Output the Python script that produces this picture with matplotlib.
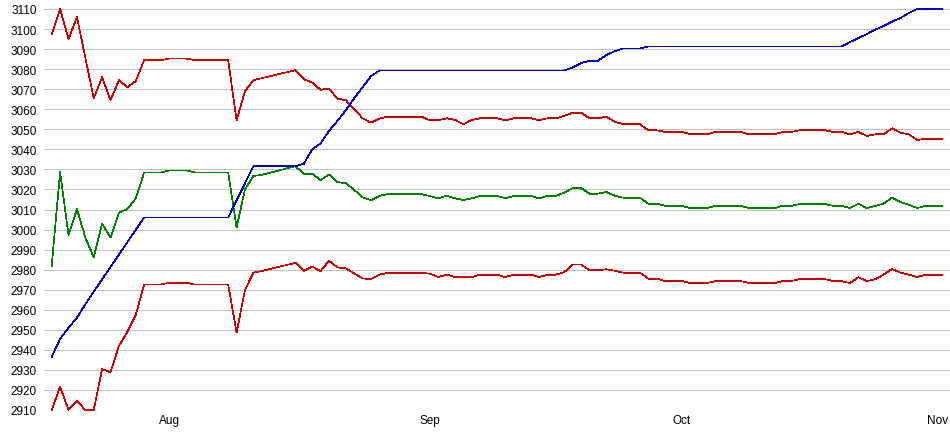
import pandas as pd
import matplotlib
matplotlib.use('Agg')
import matplotlib.pyplot as plt
import matplotlib.dates as mdates
import matplotlib.transforms as mtransforms

start = pd.Timestamp('2008-07-18')

# day offsets from start, and values
upper_days = [0, 1, 2, 3, 5, 6, 7, 8, 9, 10, 11, 13, 14, 16, 17, 21, 22, 23, 24, 25,
              29, 30, 31, 32, 33, 34, 35, 36, 37, 38, 39, 40, 44, 45, 46, 47, 48, 49, 50, 51,
              53, 54, 55, 57, 58, 59, 60, 61, 62, 63, 64, 65, 66, 67, 68, 70, 71, 72, 73, 75,
              76, 78, 79, 82, 83, 86, 87, 88, 89, 92, 93, 94, 95, 96, 97, 98, 99, 100, 101, 102,
              103, 104, 106]
upper_vals = [3097.5, 3110, 3095, 3106, 3065.5, 3076, 3064.5, 3074.5, 3071, 3074, 3084.5, 3084.5,
              3085.3, 3085.3, 3084.5, 3084.5, 3054.5, 3069, 3074.5, 3075.5,
              3079.5, 3075, 3073.3, 3069.7, 3070.3, 3065.3, 3064.5, 3060, 3055.5, 3053.3, 3055.3,
              3056.3, 3056.3, 3054.5, 3054.5, 3055.5, 3054.7, 3052.5, 3054.7, 3055.5,
              3055.5, 3054.5, 3055.5, 3055.5, 3054.5, 3055.5, 3055.5, 3056.7, 3058.3, 3058.3,
              3055.5, 3055.5, 3056.3, 3053.8, 3052.5, 3052.5, 3049.5, 3049.5, 3048.7, 3048.7,
              3047.5, 3047.5, 3048.7, 3048.7, 3047.5, 3047.5, 3048.7, 3048.7, 3049.5, 3049.5,
              3048.7, 3048.7, 3047.5, 3048.7, 3046.7, 3047.5, 3047.5, 3050.5, 3048.3, 3047.5,
              3044.7, 3045.3, 3045.3]

mid_days = [0, 1, 2, 3, 4, 5, 6, 7, 8, 9, 10, 11, 13, 14, 16, 17, 21, 22, 23, 24, 25,
            29, 30, 31, 32, 33, 34, 35, 36, 37, 38, 39, 40, 44, 45, 46, 47, 48, 49, 50, 51,
            53, 54, 55, 57, 58, 59, 60, 61, 62, 63, 64, 65, 66, 67, 68, 70, 71, 72, 73, 75,
            76, 78, 79, 82, 83, 86, 87, 88, 89, 92, 93, 94, 95, 96, 97, 98, 99, 100, 101, 102,
            103, 104, 106]
mid_vals = [2982, 3028.7, 2997.2, 3010.2, 2996, 2986.2, 3003, 2996, 3008.5, 3010.2, 3015.5,
            3028.5, 3028.5, 3029.5, 3029.5, 3028.5, 3028.5, 3001, 3020, 3026.7, 3027.3,
            3031.6, 3027.8, 3027.8, 3024.7, 3027.5, 3023.7, 3023.1, 3019.8, 3016, 3014.6,
            3016.8, 3017.7, 3017.7, 3016.7, 3015.6, 3016.8, 3015.6, 3014.7, 3015.6, 3016.8,
            3016.8, 3015.6, 3016.8, 3016.8, 3015.6, 3016.8, 3016.8, 3018.4, 3020.7, 3020.7,
            3017.9, 3017.9, 3018.7, 3016.9, 3015.9, 3015.9, 3012.9, 3012.9, 3011.8, 3011.8,
            3010.7, 3010.7, 3011.8, 3011.8, 3010.7, 3010.7, 3011.8, 3011.8, 3012.7, 3012.7,
            3011.8, 3011.8, 3010.7, 3012.9, 3010.7, 3011.8, 3012.9, 3015.9, 3013.8, 3012.4,
            3010.7, 3011.8, 3011.8]

lower_days = [0, 1, 2, 3, 4, 5, 6, 7, 8, 9, 10, 11, 13, 14, 16, 17, 21, 22, 23, 24, 25,
              29, 30, 31, 32, 33, 34, 35, 36, 37, 38, 39, 40, 44, 45, 46, 47, 48, 50, 51,
              53, 54, 55, 57, 58, 59, 60, 61, 62, 63, 64, 65, 66, 67, 68, 70, 71, 72, 73, 75,
              76, 78, 79, 82, 83, 86, 87, 88, 89, 92, 93, 94, 95, 96, 97, 98, 99, 100, 101, 102,
              103, 104, 106]
lower_vals = [2910, 2921.5, 2910, 2914.5, 2910, 2910, 2930.4, 2928.8, 2942, 2949, 2957.3,
              2972.6, 2972.6, 2973.5, 2973.5, 2972.6, 2972.6, 2948.6, 2969.8, 2978.5, 2979.3,
              2983.4, 2979.4, 2981.5, 2979.3, 2984.4, 2981.1, 2980.6, 2978.1, 2975.6, 2975.3,
              2977.5, 2978.4, 2978.4, 2978, 2976.3, 2977.5, 2976.3, 2976.3, 2977.5,
              2977.5, 2976.3, 2977.5, 2977.5, 2976.3, 2977.5, 2977.5, 2978.8, 2982.5, 2982.5,
              2979.7, 2979.7, 2980.2, 2979.5, 2978.5, 2978.5, 2975.5, 2975.5, 2974.3, 2974.3,
              2973.3, 2973.3, 2974.3, 2974.3, 2973.3, 2973.3, 2974.3, 2974.3, 2975.3, 2975.3,
              2974.3, 2974.3, 2973.3, 2976.2, 2974.3, 2975.2, 2977.5, 2980.3, 2978.5, 2977.5,
              2976.3, 2977.5, 2977.5]

blue_days = [0, 1, 2, 3, 4, 5, 11, 21, 24, 29, 30, 31, 32, 33, 34, 35, 36, 37, 38, 39,
             61, 62, 63, 64, 65, 66, 67, 68, 70, 71, 94, 95, 96, 97, 98, 99, 100, 101, 102,
             103, 106]
blue_vals = [2936.5, 2945.5, 2951, 2956, 2962.7, 2969, 3006, 3006, 3031.6, 3031.6, 3032.8,
             3040, 3043, 3049.2, 3054.2, 3059.5, 3065.5, 3071, 3076.5, 3079.3,
             3079.3, 3080.8, 3083, 3084.2, 3084.2, 3087, 3089, 3090.3, 3090.3, 3091.3,
             3091.3, 3093.5, 3095.5, 3097.5, 3099.7, 3101.5, 3103.7, 3105.5, 3108,
             3110, 3110]

y_ticks = list(range(2910, 3111, 10))


def to_dates(days):
    return start + pd.to_timedelta(days, unit='D')


plt.rcParams['font.family'] = ['Liberation Sans', 'DejaVu Sans']

fig = plt.figure(figsize=(9.5, 4.35), dpi=100)
ax = fig.add_axes([44 / 950, 24 / 435, 906 / 950, 401 / 435])

kw = dict(lw=0.5, antialiased=False, clip_on=False)
ax.plot(to_dates(upper_days), upper_vals, color='#cc0000', **kw)
ax.plot(to_dates(lower_days), lower_vals, color='#cc0000', **kw)
ax.plot(to_dates(mid_days), mid_vals, color='#008000', **kw)
ax.plot(to_dates(blue_days), blue_vals, color='#0000cc', **kw)

ax.set_ylim(2910, 3110)
ax.set_xlim(start - pd.Timedelta(hours=22), start + pd.Timedelta(days=106.9))
ax.set_yticks(y_ticks)
ax.xaxis.set_major_locator(mdates.MonthLocator())
ax.xaxis.set_major_formatter(mdates.DateFormatter('%b'))

ax.grid(axis='y', color='#c0c0c0', lw=0.5, antialiased=False)
ax.set_axisbelow(True)
for s in ax.spines.values():
    s.set_visible(False)
ax.tick_params(axis='both', length=0, labelsize=8.5, colors='#000000')
ax.tick_params(axis='y', pad=5)
ax.tick_params(axis='x', pad=3)

# keep the last month label inside the figure
fig.canvas.draw()
last = ax.get_xticklabels()[-1]
last.set_transform(last.get_transform() + mtransforms.ScaledTranslation(-5 / 100, 0, fig.dpi_scale_trans))

fig.savefig('out.png', dpi=100)
